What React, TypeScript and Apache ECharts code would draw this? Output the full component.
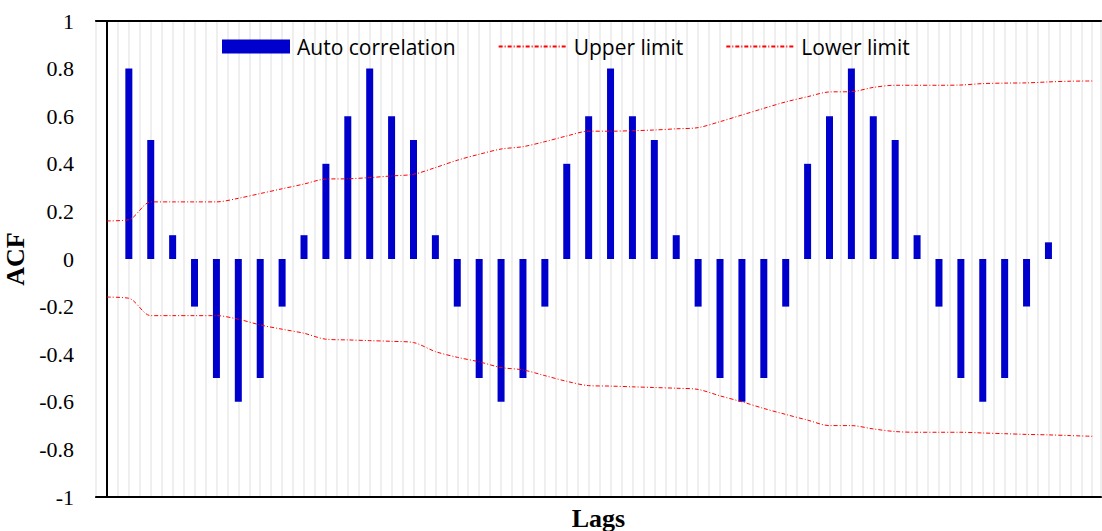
import React, { useEffect, useRef } from "react";
import * as echarts from "echarts";

// Autocorrelation at lags 1..43
const acfValues = [
  0.8, 0.5, 0.1, -0.2, -0.5, -0.6, -0.5, -0.2, 0.1,
  0.4, 0.6, 0.8, 0.6, 0.5, 0.1,
  -0.2, -0.5, -0.6, -0.5, -0.2,
  0.4, 0.6, 0.8, 0.6, 0.5, 0.1,
  -0.2, -0.5, -0.6, -0.5, -0.2,
  0.4, 0.6, 0.8, 0.6, 0.5, 0.1,
  -0.2, -0.5, -0.6, -0.5, -0.2,
  0.07,
];

// Confidence limits at lags 0..45
const upperLimit = [
  0.16, 0.165, 0.24, 0.24, 0.24, 0.24, 0.255, 0.275, 0.295, 0.315,
  0.336, 0.337, 0.342, 0.349, 0.356, 0.384, 0.415, 0.44, 0.462, 0.472,
  0.493, 0.517, 0.537, 0.537, 0.539, 0.542, 0.547, 0.552, 0.577, 0.605,
  0.633, 0.66, 0.682, 0.702, 0.703, 0.721, 0.73, 0.73, 0.73, 0.731,
  0.737, 0.739, 0.74, 0.744, 0.747, 0.748,
];
const lowerLimit = [
  -0.16, -0.165, -0.238, -0.238, -0.238, -0.238, -0.253, -0.277, -0.295, -0.312,
  -0.337, -0.34, -0.343, -0.346, -0.351, -0.389, -0.413, -0.432, -0.456, -0.466,
  -0.49, -0.514, -0.532, -0.534, -0.537, -0.54, -0.543, -0.548, -0.575, -0.6,
  -0.628, -0.653, -0.677, -0.7, -0.7, -0.714, -0.725, -0.728, -0.728, -0.728,
  -0.731, -0.734, -0.737, -0.739, -0.742, -0.745,
];

const ACF_LAG_START = 1;
const LIMIT_LAG_START = 0;

const seriesNames = ["Auto correlation", "Upper limit", "Lower limit"];

export default function App() {
  const ref = useRef<HTMLDivElement>(null);

  useEffect(() => {
    if (!ref.current) return;
    const chart = echarts.init(ref.current, undefined, { renderer: "svg" });

    const limitLine = {
      color: "#FF0000",
      width: 1,
      type: [4, 2, 1, 2] as number[],
    };

    const lagRange = { min: -0.5, max: 45.4, interval: 0.5 };

    chart.setOption({
      animation: false,
      backgroundColor: "#ffffff",
      grid: {
        left: 96,
        right: 1,
        top: 21,
        bottom: 34,
        outerBoundsMode: "none",
        containLabel: false,
        show: true,
        borderColor: "#000000",
        borderWidth: 1.5,
        backgroundColor: "transparent",
      },
      legend: {
        left: 217,
        top: 31,
        itemWidth: 68,
        itemHeight: 14,
        itemGap: 42,
        textStyle: {
          fontFamily: "Open Sans",
          fontSize: 21,
          color: "#000000",
          padding: [0, 0, 0, 2],
        },
        data: [
          { name: seriesNames[0], icon: "rect" },
          { name: seriesNames[1], itemStyle: { opacity: 0 } },
          { name: seriesNames[2], itemStyle: { opacity: 0 } },
        ],
      },
      xAxis: [
        {
          type: "value",
          ...lagRange,
          name: "Lags",
          nameLocation: "middle",
          nameGap: 8,
          nameTextStyle: {
            fontFamily: "Liberation Serif",
            fontWeight: "bold",
            fontSize: 26,
            color: "#000000",
          },
          axisLine: { show: true, onZero: false, lineStyle: { color: "#000000", width: 2 } },
          axisTick: { show: false },
          axisLabel: { show: false },
          splitLine: { show: true, lineStyle: { color: "#efefef", width: 2 } },
        },
        {
          // plain top frame line drawn over the vertical gridlines
          type: "value",
          position: "top",
          ...lagRange,
          axisLine: { show: true, onZero: false, lineStyle: { color: "#000000", width: 2 } },
          axisTick: { show: false },
          axisLabel: { show: false },
          splitLine: { show: false },
        },
      ],
      yAxis: {
        type: "value",
        min: -1,
        max: 1,
        interval: 0.2,
        name: "ACF",
        nameLocation: "middle",
        nameRotate: 90,
        nameGap: 58,
        nameTextStyle: {
          fontFamily: "Liberation Serif",
          fontWeight: "bold",
          fontSize: 26,
          color: "#000000",
        },
        axisLine: { show: true, lineStyle: { color: "#000000", width: 2 } },
        axisTick: { show: false },
        axisLabel: {
          fontFamily: "Liberation Serif",
          fontSize: 22,
          color: "#000000",
          margin: 22,
        },
        splitLine: { show: false },
      },
      series: [
        {
          name: seriesNames[0],
          type: "bar",
          barWidth: 7,
          itemStyle: { color: "#0000CC" },
          data: acfValues.map((v, i) => [i + ACF_LAG_START, v]),
          z: 2,
        },
        {
          name: seriesNames[1],
          type: "line",
          smooth: 0.3,
          symbol: "none",
          lineStyle: limitLine,
          itemStyle: { color: "#FF0000" },
          data: upperLimit.map((v, i) => [i + LIMIT_LAG_START, v]),
          z: 3,
        },
        {
          name: seriesNames[2],
          type: "line",
          smooth: 0.3,
          symbol: "none",
          lineStyle: limitLine,
          itemStyle: { color: "#FF0000" },
          data: lowerLimit.map((v, i) => [i + LIMIT_LAG_START, v]),
          z: 3,
        },
      ],
    });

    return () => chart.dispose();
  }, []);

  return (
    <div
      ref={ref}
      style={{ position: "absolute", left: 0, top: 0, width: 1102, height: 531 }}
    />
  );
}
